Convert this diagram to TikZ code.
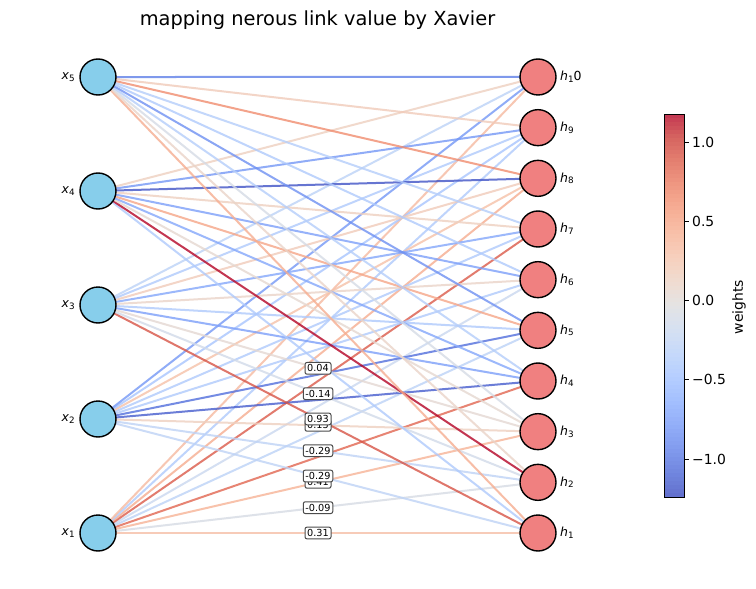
\documentclass[tikz,border=0pt]{standalone}
\usepackage{fontspec}
\setmainfont{DejaVu Sans}
\usetikzlibrary{calc}
\pgfdeclarelayer{bg}
\pgfsetlayers{bg,main}
\definecolor{cw0}{RGB}{59,76,192}
\definecolor{cw1}{RGB}{77,104,215}
\definecolor{cw2}{RGB}{98,130,234}
\definecolor{cw3}{RGB}{119,154,247}
\definecolor{cw4}{RGB}{141,176,254}
\definecolor{cw5}{RGB}{163,194,255}
\definecolor{cw6}{RGB}{184,208,249}
\definecolor{cw7}{RGB}{204,217,238}
\definecolor{cw8}{RGB}{221,221,221}
\definecolor{cw9}{RGB}{236,211,197}
\definecolor{cw10}{RGB}{245,196,173}
\definecolor{cw11}{RGB}{247,177,148}
\definecolor{cw12}{RGB}{244,154,123}
\definecolor{cw13}{RGB}{236,127,99}
\definecolor{cw14}{RGB}{222,96,77}
\definecolor{cw15}{RGB}{203,62,56}
\definecolor{cw16}{RGB}{180,4,38}
\definecolor{skyb}{RGB}{135,206,235}
\definecolor{lcoral}{RGB}{240,128,128}
\newcommand{\myfs}[1]{\fontsize{#1}{#1}\selectfont}
\newcommand{\wcol}[2]{%
  \pgfmathsetmacro{\myT}{max(0,min(15.999,16*((#1)+1.24)/2.42))}%
  \pgfmathtruncatemacro{\myK}{floor(\myT)}%
  \pgfmathtruncatemacro{\myKK}{\myK+1}%
  \pgfmathtruncatemacro{\myP}{round(100*(\myT-\myK))}%
  \colorlet{#2}{cw\myKK!\myP!cw\myK}%
}
\begin{document}
\begin{tikzpicture}[x=1pt,y=-1pt,
  inp/.style={circle, draw=black, line width=1.4, fill=skyb, minimum size=36, inner sep=0},
  outp/.style={circle, draw=black, line width=1.4, fill=lcoral, minimum size=36, inner sep=0},
  edge/.style={line width=2, draw opacity=0.8},
  elab/.style={draw=black!70, fill=white, rounded corners=2, inner sep=2.2, line width=1, font=\myfs{9.7}},
  lbl/.style={font=\myfs{12.5}, inner sep=0},
  tick/.style={font=\myfs{13.9}, inner sep=0, anchor=west}]
\useasboundingbox (0,0) rectangle (756,589);
% input nodes
\foreach \i/\y in {1/533,2/419,3/305,4/191,5/77} {
  \node[inp] (x\i) at (98,\y) {};
  \node[lbl, anchor=east] (lx\i) at (75,\y) {\textit{x}\raisebox{-1.8pt}{\myfs{8.8}\i}};
}
% output nodes
\foreach \j/\s/\t in {1/1/,2/2/,3/3/,4/4/,5/5/,6/6/,7/7/,8/8/,9/9/,10/1/0} {
  \pgfmathsetmacro{\y}{533-(\j-1)*50.667}
  \node[outp] (h\j) at (538,\y) {};
  \node[lbl, anchor=west] (lh\j) at (560,\y) {\textit{h}\raisebox{-1.8pt}{\myfs{8.8}\s}\t};
}
% edges
\begin{pgfonlayer}{bg}
\fill[white] (0,0) rectangle (756,589);
\foreach \i/\j/\w in {
 1/1/0.31, 1/2/-0.09, 1/3/0.41, 1/4/0.85, 1/5/-0.3, 1/6/-0.2, 1/7/0.9, 1/8/0.45, 1/9/-0.4, 1/10/0.35,
 2/1/-0.29, 2/2/-0.29, 2/3/0.15, 2/4/-1.15, 2/5/-1.05, 2/6/-0.4, 2/7/-0.4, 2/8/0.3, 2/9/-0.45, 2/10/-0.8,
 3/1/0.93, 3/2/-0.14, 3/3/0.04, 3/4/-0.75, 3/5/-0.4, 3/6/0.1, 3/7/-0.7, 3/8/0.2, 3/9/-0.4, 3/10/-0.3,
 4/1/-0.4, 4/2/1.18, 4/3/0.05, 4/4/-0.7, 4/5/0.5, 4/6/-0.75, 4/7/0.15, 4/8/-1.2, 4/9/-0.8, 4/10/0.15,
 5/1/0.45, 5/2/0.1, 5/3/-0.1, 5/4/-0.35, 5/5/-0.85, 5/6/-0.4, 5/7/-0.35, 5/8/0.65, 5/9/0.2, 5/10/-0.95} {
  \wcol{\w}{ec}
  \draw[edge, draw=ec] (x\i.center) -- (h\j.center);
}
\end{pgfonlayer}
% edge labels
\foreach \i/\j/\l in {1/1/0.31, 1/2/-0.09, 1/3/0.41, 2/1/-0.29, 2/2/-0.29, 2/3/0.15, 3/1/0.93, 3/2/-0.14, 3/3/0.04} {
  \node[elab] (el\i\j) at ($(x\i)!0.5!(h\j)$) {\l};
}
% title
\node[font=\myfs{19.4}, inner sep=0, anchor=base] (title) at (317.5,25) {mapping nerous link value by Xavier};
% colorbar
\foreach \k in {0,...,95} {
  \pgfmathsetmacro{\vv}{-1.24+(\k+0.5)*0.0252083}
  \pgfmathsetmacro{\ya}{497-\k*3.98958}
  \pgfmathsetmacro{\yb}{497-(\k+1)*3.98958-0.4}
  \wcol{\vv}{ec}
  \fill[ec!80!white] (664,\ya) rectangle (684,\yb);
}
\draw[line width=0.9] (664,114) rectangle (684,497);
\foreach \v/\t [count=\n] in {1.0/1.0, 0.5/0.5, 0.0/0.0, -0.5/{−0.5}, -1.0/{−1.0}} {
  \pgfmathsetmacro{\yy}{114+(1.18-\v)*158.264}
  \draw[line width=0.9] (684,\yy) -- (689,\yy);
  \node[tick] (tk\n) at (692,\yy) {\t};
}
\node[font=\myfs{13.9}, rotate=90, inner sep=0] (wl) at (739,307) {weights};
\end{tikzpicture}
\end{document}
